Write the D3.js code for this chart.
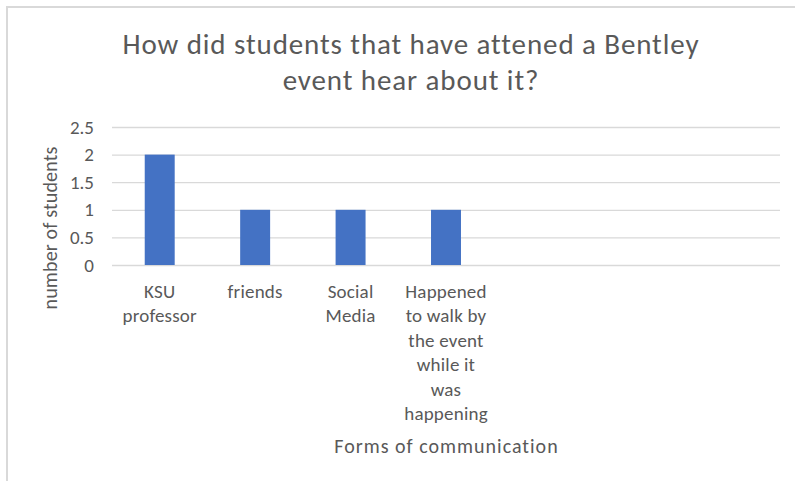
<!DOCTYPE html>
<html>
<head>
<meta charset="utf-8">
<script src="https://cdn.jsdelivr.net/npm/d3@7"></script>
<style>
  html, body { margin: 0; padding: 0; background: #fff; }
  svg { display: block; font-family: Calibri, Carlito, Lato, sans-serif; }
</style>
</head>
<body>
<svg id="chart" width="795" height="481"></svg>
<script>
// Survey answers: how attendees heard about the event
const categories = [
  "KSU\nprofessor",
  "friends",
  "Social\nMedia",
  "Happened\nto walk by\nthe event\nwhile it\nwas\nhappening",
  "",
  "",
  ""
];
const values = [2, 1, 1, 1, null, null, null];
const yTicks = [0, 0.5, 1, 1.5, 2, 2.5];
const titleLines = ["How did students that have attened a Bentley", "event hear about it?"];
const xTitle = "Forms of communication";
const yTitle = "number of students";

const svg = d3.select("#chart");
const textColor = "#595959";
const gridColor = "#d9d9d9";
const barColor = "#4472c4";

// outer chart frame
svg.append("rect")
  .attr("x", 7).attr("y", 7)
  .attr("width", 800).attr("height", 500)
  .attr("fill", "#fff")
  .attr("stroke", gridColor)
  .attr("stroke-width", 2);

const plot = { left: 112, right: 780, top: 127, bottom: 265 };

const x = d3.scaleBand()
  .domain(d3.range(categories.length))
  .range([plot.left, plot.right])
  .paddingInner(0.686)
  .paddingOuter(0.343);

const y = d3.scaleLinear()
  .domain([0, 2.5])
  .range([plot.bottom, plot.top]);

// horizontal gridlines + value labels
const yAxis = svg.append("g")
  .attr("transform", `translate(${plot.left},0)`)
  .call(d3.axisLeft(y)
    .tickValues(yTicks)
    .tickSize(-(plot.right - plot.left))
    .tickPadding(18)
    .tickFormat(d3.format("")));
yAxis.select(".domain").remove();
yAxis.selectAll(".tick line")
  .attr("stroke", gridColor)
  .attr("stroke-width", 1.3);
yAxis.selectAll(".tick text")
  .attr("fill", textColor)
  .attr("font-size", 19)
  .attr("font-family", "Calibri, Carlito, Lato, sans-serif");

// bars
svg.append("g")
  .selectAll("rect")
  .data(values.map((v, i) => ({ i, v })).filter(d => d.v != null))
  .join("rect")
  .attr("x", d => x(d.i))
  .attr("width", x.bandwidth())
  .attr("y", d => y(d.v))
  .attr("height", d => y(0) - y(d.v))
  .attr("fill", barColor);

// category labels (wrapped)
const xAxis = svg.append("g");
categories.forEach((c, i) => {
  if (!c) return;
  const t = xAxis.append("text")
    .attr("text-anchor", "middle")
    .attr("fill", textColor)
    .attr("font-size", 19)
    .attr("letter-spacing", 0.2);
  c.split("\n").forEach((line, k) => {
    t.append("tspan")
      .attr("x", x(i) + x.bandwidth() / 2)
      .attr("y", 298 + k * 24.4)
      .text(line);
  });
});

// chart title
const title = svg.append("text")
  .attr("text-anchor", "middle")
  .attr("fill", textColor)
  .attr("font-size", 29)
  .attr("letter-spacing", 0.9);
titleLines.forEach((line, k) => {
  title.append("tspan")
    .attr("x", 411)
    .attr("y", 54 + k * 36)
    .text(line);
});

// axis titles
svg.append("text")
  .attr("x", 446.5).attr("y", 452.5)
  .attr("text-anchor", "middle")
  .attr("fill", textColor)
  .attr("font-size", 20)
  .attr("letter-spacing", 1)
  .text(xTitle);

svg.append("text")
  .attr("transform", "translate(57,228) rotate(-90)")
  .attr("text-anchor", "middle")
  .attr("fill", textColor)
  .attr("font-size", 20)
  .attr("letter-spacing", 0.15)
  .text(yTitle);
</script>
</body>
</html>
